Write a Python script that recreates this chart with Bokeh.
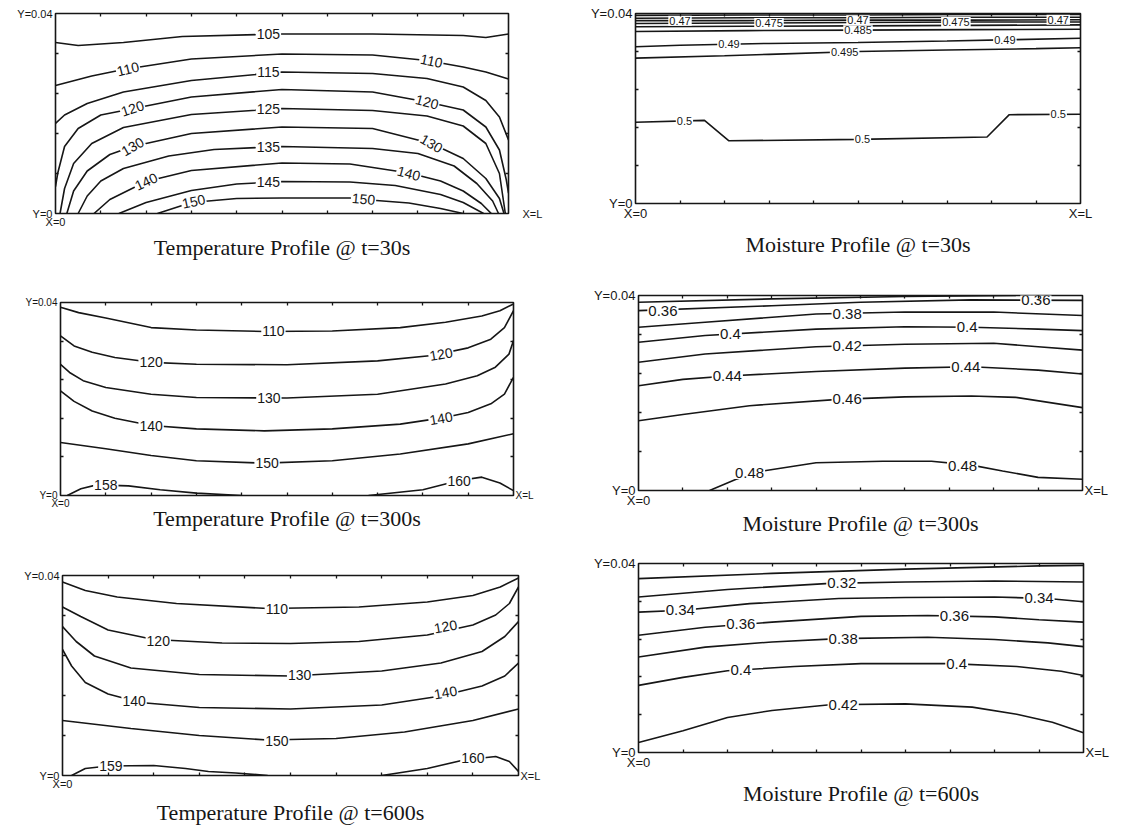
from bokeh.plotting import figure
from bokeh.models import Range1d, FixedTicker, LinearAxis, ColumnDataSource, Title
from bokeh.layouts import row, column
from bokeh.embed import file_html
from bokeh.resources import INLINE
from bokeh.core.properties import value

# ---------------- data (x: fraction of L, y: mm, 0..40 mm = 0..0.04 m) ----------------
# Temperature @ t=30s
T30_levels = [105, 110, 115, 120, 125, 130, 135, 140, 145, 150]
T30_x = [
    [0, 0.05, 0.15, 0.28, 0.5, 0.7, 0.9, 0.95, 1.0],
    [0, 0.08, 0.15, 0.3, 0.5, 0.7, 0.82, 0.9, 0.95, 1.0],
    [0, 0.02, 0.07, 0.15, 0.3, 0.5, 0.7, 0.82, 0.9, 0.95, 0.98, 1.0],
    [0, 0.005, 0.02, 0.05, 0.1, 0.3, 0.5, 0.7, 0.82, 0.9, 0.95, 0.98, 0.995, 1.0],
    [0.01, 0.02, 0.04, 0.08, 0.15, 0.3, 0.5, 0.7, 0.82, 0.9, 0.95, 0.98, 0.993],
    [0.025, 0.04, 0.07, 0.12, 0.17, 0.3, 0.5, 0.7, 0.83, 0.9, 0.95, 0.98, 0.99],
    [0.05, 0.07, 0.1, 0.15, 0.25, 0.35, 0.5, 0.7, 0.8, 0.88, 0.93, 0.965, 0.978],
    [0.085, 0.12, 0.2, 0.3, 0.5, 0.65, 0.78, 0.85, 0.9, 0.94, 0.962],
    [0.14, 0.2, 0.3, 0.4, 0.5, 0.65, 0.75, 0.85, 0.9, 0.945],
    [0.225, 0.3, 0.4, 0.5, 0.65, 0.68, 0.78, 0.85, 0.9],
]
T30_y = [
    [34.2, 33.6, 34.2, 35.4, 35.9, 35.9, 35.6, 35.2, 35.9],
    [25.6, 27.5, 28.8, 30.9, 31.9, 31.7, 30.6, 29.3, 28.3, 26.9],
    [18.0, 19.7, 22.0, 24.3, 26.6, 28.3, 28.0, 27.0, 25.3, 22.6, 19.3, 14.7],
    [5.4, 8.1, 13.4, 17.0, 19.7, 23.3, 24.8, 24.3, 22.3, 20.7, 17.3, 12.7, 6.8, 4.1],
    [0, 5.0, 10.0, 14.0, 17.2, 19.8, 21.0, 20.6, 19.5, 17.5, 14.0, 8.0, 0],
    [0, 4.5, 8.5, 11.8, 13.4, 16.0, 17.3, 17.0, 14.0, 11.0, 7.0, 3.0, 0],
    [0, 3.5, 6.5, 9.0, 11.5, 12.8, 13.4, 13.0, 12.0, 9.5, 6.0, 2.5, 0],
    [0, 2.8, 6.4, 8.6, 10.1, 9.9, 8.1, 6.5, 4.5, 2.0, 0],
    [0, 2.2, 4.6, 5.9, 6.4, 6.3, 5.6, 3.8, 2.2, 0],
    [0, 2.2, 3.0, 3.1, 3.1, 2.8, 2.1, 1.0, 0],
]
T30_lab_text = ["105", "110", "110", "115", "120", "120", "125", "130", "130",
                "135", "140", "140", "145", "150", "150"]
T30_lab_x = [0.47, 0.16, 0.83, 0.47, 0.17, 0.82, 0.47, 0.17, 0.83,
             0.47, 0.2, 0.78, 0.47, 0.305, 0.68]
T30_lab_y = [35.9, 28.9, 30.5, 28.3, 21.0, 22.3, 21.0, 13.4, 14.0,
             13.4, 6.4, 8.0, 6.4, 2.4, 2.9]
T30_lab_ang = [0, 14, -12, 0, 18, -15, 0, 30, -30, 0, 25, -15, 0, 12, -5]

# Moisture @ t=30s
M30_levels = [0.45, 0.46, 0.47, 0.475, 0.48, 0.485, 0.49, 0.495, 0.5]
M30_x = [
    [0, 0.25, 0.5, 0.75, 1.0],
    [0, 0.25, 0.5, 0.75, 1.0],
    [0, 0.25, 0.5, 0.75, 1.0],
    [0, 0.25, 0.5, 0.75, 1.0],
    [0, 0.25, 0.5, 0.75, 1.0],
    [0, 0.25, 0.5, 0.75, 1.0],
    [0, 0.1, 0.3, 0.5, 0.7, 0.85, 1.0],
    [0, 0.2, 0.3, 0.5, 0.7, 0.9, 1.0],
    [0, 0.155, 0.21, 0.5, 0.79, 0.84, 1.0],
]
M30_y = [
    [39.6, 39.7, 39.7, 39.8, 39.8],
    [39.0, 39.1, 39.1, 39.2, 39.2],
    [38.5, 38.5, 38.6, 38.6, 38.7],
    [37.9, 38.0, 38.1, 38.2, 38.2],
    [37.2, 37.3, 37.4, 37.5, 37.6],
    [36.2, 36.4, 36.5, 36.6, 36.7],
    [33.0, 33.3, 33.7, 33.9, 34.2, 34.5, 34.8],
    [30.6, 31.1, 31.4, 32.0, 32.3, 32.6, 32.8],
    [17.1, 17.5, 13.2, 13.5, 14.0, 18.7, 18.8],
]
M30_lab_text = ["0.47", "0.475", "0.47", "0.475", "0.47", "0.485",
                "0.49", "0.49", "0.495", "0.5", "0.5", "0.5"]
M30_lab_x = [0.1, 0.3, 0.5, 0.72, 0.95, 0.5, 0.21, 0.83, 0.47, 0.11, 0.51, 0.95]
M30_lab_y = [38.5, 38.0, 38.6, 38.2, 38.7, 36.5, 33.5, 34.5, 31.9, 17.4, 13.5, 18.8]
M30_lab_ang = [0, 0, 0, 0, 0, 0, 0, 0, 0, 0, 0, 0]

# Temperature @ t=300s
T300_levels = [110, 120, 130, 140, 150, 158, 160]
T300_x = [
    [0, 0.04, 0.1, 0.2, 0.3, 0.45, 0.6, 0.75, 0.85, 0.93, 0.97, 1.0],
    [0, 0.03, 0.07, 0.12, 0.2, 0.3, 0.5, 0.7, 0.82, 0.9, 0.95, 0.98, 1.0],
    [0, 0.02, 0.05, 0.1, 0.2, 0.3, 0.5, 0.7, 0.85, 0.92, 0.96, 0.99, 1.0],
    [0, 0.03, 0.07, 0.12, 0.2, 0.3, 0.45, 0.6, 0.75, 0.85, 0.9, 0.95, 0.98, 1.0],
    [0, 0.1, 0.2, 0.3, 0.45, 0.6, 0.75, 0.9, 1.0],
    [0.015, 0.045, 0.08, 0.15, 0.22, 0.3, 0.4],
    [0.68, 0.8, 0.88, 0.93, 0.97, 1.0],
]
T300_y = [
    [39.0, 37.9, 36.8, 34.8, 34.3, 34.0, 34.1, 34.8, 35.9, 37.2, 38.3, 39.7],
    [33.1, 31.0, 29.7, 28.6, 27.6, 27.2, 27.1, 27.9, 29.0, 30.6, 32.4, 34.8, 38.3],
    [27.2, 25.5, 23.8, 22.4, 21.0, 20.3, 20.2, 21.0, 23.1, 24.8, 26.6, 29.3, 32.1],
    [21.7, 19.5, 17.5, 16.0, 14.5, 13.8, 13.4, 13.8, 14.8, 16.2, 17.2, 19.0, 21.0, 24.5],
    [11.0, 9.7, 8.3, 7.2, 6.7, 7.2, 8.6, 10.7, 12.8],
    [0, 1.4, 2.2, 2.0, 1.2, 0.5, 0],
    [0, 1.2, 3.1, 3.8, 2.6, 1.0],
]
T300_lab_text = ["110", "120", "120", "130", "140", "140", "150", "158", "160"]
T300_lab_x = [0.47, 0.2, 0.84, 0.46, 0.2, 0.84, 0.456, 0.1, 0.88]
T300_lab_y = [34.0, 27.6, 29.3, 20.2, 14.4, 16.0, 6.7, 2.1, 3.1]
T300_lab_ang = [0, 0, 10, 0, 0, 10, 0, 0, 0]

# Moisture @ t=300s
M300_levels = [0.34, 0.36, 0.38, 0.40, 0.42, 0.44, 0.46, 0.48]
M300_x = [
    [0, 0.3, 0.6, 0.85],
    [0, 0.3, 0.5, 0.75, 1.0],
    [0, 0.15, 0.4, 0.6, 0.8, 1.0],
    [0, 0.15, 0.4, 0.6, 0.75, 0.9, 1.0],
    [0, 0.15, 0.4, 0.6, 0.8, 0.9, 1.0],
    [0, 0.1, 0.2, 0.4, 0.6, 0.75, 0.9, 1.0],
    [0, 0.1, 0.25, 0.45, 0.6, 0.75, 0.85, 1.0],
    [0.16, 0.22, 0.28, 0.4, 0.55, 0.66, 0.75, 0.82, 0.9, 1.0],
]
M300_y = [
    [38.6, 39.3, 39.8, 40.0],
    [36.9, 37.9, 38.6, 39.1, 39.0],
    [33.5, 34.5, 36.2, 36.6, 36.6, 35.9],
    [30.4, 31.8, 33.1, 33.6, 33.5, 33.1, 32.8],
    [26.3, 28.0, 29.5, 30.0, 30.2, 29.5, 28.8],
    [21.5, 22.8, 23.5, 24.4, 25.1, 25.4, 24.7, 23.9],
    [14.3, 15.6, 17.4, 18.7, 19.2, 19.4, 19.1, 17.0],
    [0, 2.3, 4.0, 5.7, 6.0, 6.0, 5.2, 4.0, 2.7, 2.3],
]
M300_lab_text = ["0.36", "0.36", "0.38", "0.4", "0.4", "0.42", "0.44", "0.44",
                 "0.46", "0.48", "0.48"]
M300_lab_x = [0.055, 0.895, 0.47, 0.207, 0.74, 0.47, 0.2, 0.737, 0.47, 0.25, 0.73]
M300_lab_y = [36.9, 39.1, 36.3, 32.2, 33.5, 29.7, 23.5, 25.4, 18.8, 3.6, 5.0]
M300_lab_ang = [0, 0, 0, 0, 0, 0, 0, 0, 0, 0, 0]

# Temperature @ t=600s
T600_levels = [110, 120, 130, 140, 150, 159, 160]
T600_x = [
    [0, 0.05, 0.12, 0.25, 0.45, 0.65, 0.8, 0.9, 0.96, 1.0],
    [0, 0.04, 0.1, 0.2, 0.35, 0.5, 0.65, 0.8, 0.9, 0.95, 0.98, 1.0],
    [0, 0.03, 0.07, 0.15, 0.3, 0.5, 0.7, 0.83, 0.92, 0.97, 1.0],
    [0, 0.02, 0.05, 0.1, 0.17, 0.3, 0.5, 0.7, 0.83, 0.92, 0.97, 1.0],
    [0, 0.15, 0.3, 0.45, 0.6, 0.75, 0.9, 1.0],
    [0.02, 0.05, 0.1, 0.2, 0.27, 0.32, 0.38, 0.45],
    [0.7, 0.8, 0.88, 0.95, 0.98, 1.0],
]
T600_y = [
    [38.7, 37.0, 35.7, 34.4, 33.4, 33.7, 34.7, 36.0, 37.7, 39.5],
    [33.7, 31.8, 29.1, 27.2, 26.5, 26.4, 26.8, 28.1, 30.1, 32.1, 34.4, 37.7],
    [29.8, 26.8, 23.9, 21.5, 20.2, 19.9, 20.9, 22.5, 24.8, 27.8, 30.8],
    [25.2, 21.9, 18.6, 16.3, 14.6, 13.6, 13.3, 14.1, 15.9, 17.9, 19.9, 22.5],
    [11.0, 9.4, 8.0, 7.1, 7.4, 8.7, 11.0, 13.3],
    [0, 1.4, 1.9, 2.0, 1.4, 0.8, 0.5, 0],
    [0, 1.4, 3.1, 3.8, 2.8, 0.8],
]
T600_lab_text = ["110", "120", "120", "130", "140", "140", "150", "159", "160"]
T600_lab_x = [0.47, 0.21, 0.84, 0.52, 0.157, 0.84, 0.47, 0.106, 0.9]
T600_lab_y = [33.4, 27.0, 29.8, 20.1, 14.9, 16.6, 7.0, 1.9, 3.5]
T600_lab_ang = [0, 0, 10, 0, 0, 10, 0, 0, 0]

# Moisture @ t=600s
M600_levels = [0.30, 0.32, 0.34, 0.36, 0.38, 0.40, 0.42]
M600_x = [
    [0, 0.3, 0.6, 0.9, 1.0],
    [0, 0.2, 0.43, 0.6, 0.8, 1.0],
    [0, 0.1, 0.25, 0.45, 0.6, 0.8, 0.92, 1.0],
    [0, 0.15, 0.3, 0.5, 0.65, 0.8, 0.9, 1.0],
    [0, 0.15, 0.3, 0.45, 0.65, 0.8, 0.92, 1.0],
    [0, 0.1, 0.2, 0.35, 0.5, 0.7, 0.85, 0.95, 1.0],
    [0, 0.1, 0.2, 0.3, 0.43, 0.6, 0.75, 0.85, 0.93, 1.0],
]
M600_y = [
    [36.8, 37.9, 38.8, 39.5, 39.6],
    [32.9, 34.5, 35.8, 36.1, 36.3, 36.1],
    [29.7, 30.1, 31.5, 32.6, 32.8, 32.9, 32.6, 31.9],
    [24.8, 26.5, 27.6, 28.8, 29.0, 28.7, 28.1, 27.6],
    [20.2, 22.3, 23.4, 24.1, 24.4, 23.9, 23.2, 22.4],
    [14.2, 15.9, 17.3, 18.2, 18.8, 18.8, 18.2, 17.2, 16.3],
    [2.1, 4.6, 7.4, 8.9, 10.1, 10.3, 9.6, 8.1, 6.4, 4.2],
]
M600_lab_text = ["0.32", "0.34", "0.34", "0.36", "0.36", "0.38", "0.4", "0.4", "0.42"]
M600_lab_x = [0.457, 0.094, 0.9, 0.23, 0.71, 0.46, 0.23, 0.715, 0.46]
M600_lab_y = [35.8, 30.1, 32.7, 27.1, 28.9, 24.1, 17.5, 18.8, 10.1]
M600_lab_ang = [0, 0, 0, 0, 0, 0, 0, 0, 0]

Y_TOP_TEXT = "Y=0.04"
Y_BOT_TEXT = "Y=0"
X_LEFT_TEXT = "X=0"
X_RIGHT_TEXT = "X=L"

CAPTIONS = ["Temperature Profile @ t=30s", "Moisture Profile @ t=30s",
            "Temperature Profile @ t=300s", "Moisture Profile @ t=300s",
            "Temperature Profile @ t=600s", "Moisture Profile @ t=600s"]

# ---------------- styling / construction ----------------
INK = "#161616"
SANS = "Liberation Sans"
SERIF = "Liberation Serif"


def style_axis(ax, ticks, minor, overrides, size, standoff):
    ax.ticker = FixedTicker(ticks=ticks, minor_ticks=minor)
    ax.major_label_overrides = overrides
    ax.axis_line_color = None
    ax.major_tick_in = 0
    ax.major_tick_out = 0
    ax.major_tick_line_color = None
    ax.minor_tick_in = 3
    ax.minor_tick_out = 0
    ax.minor_tick_line_color = INK
    ax.minor_tick_line_width = 1.3
    ax.major_label_text_font = SANS
    ax.major_label_text_font_size = f"{size}px"
    ax.major_label_text_color = INK
    ax.major_label_standoff = standoff


def make_panel(xs, ys, lab_text, lab_x, lab_y, lab_ang, caption, geo,
               cap_off, cap_standoff, lab_size, corner_size, xl_on_bottom, xr_standoff):
    W, H, bl, br, bt, bb = geo
    p = figure(width=W, height=H, x_range=Range1d(0, 1), y_range=Range1d(0, 40),
               output_backend="svg", toolbar_location=None, tools="",
               min_border_left=bl, min_border_right=br,
               min_border_top=bt, min_border_bottom=bb)
    p.background_fill_color = "white"
    p.border_fill_color = "white"
    p.outline_line_color = INK
    p.outline_line_width = 1.6
    p.grid.visible = False

    xminor = [i / 10 for i in range(1, 10)]
    yminor = [8, 16, 24, 32]
    bottom_ticks = [0, 1] if xl_on_bottom else [0]
    style_axis(p.xaxis[0], bottom_ticks, xminor, {0: X_LEFT_TEXT, 1: X_RIGHT_TEXT},
               corner_size, 2)
    style_axis(p.yaxis[0], [0, 40], yminor, {0: Y_BOT_TEXT, 40: Y_TOP_TEXT},
               corner_size, 3)
    top = LinearAxis()
    style_axis(top, [], xminor, {}, corner_size, 0)
    p.add_layout(top, "above")
    right = LinearAxis()
    style_axis(right, [] if xl_on_bottom else [0], yminor, {0: X_RIGHT_TEXT},
               corner_size, xr_standoff)
    p.add_layout(right, "right")

    p.multi_line(xs=xs, ys=ys, line_color=INK, line_width=1.6)

    src = ColumnDataSource(dict(x=lab_x, y=lab_y, t=lab_text, a=lab_ang))
    p.text(x="x", y="y", text="t", angle="a", angle_units="deg", source=src,
           text_align="center", text_baseline="middle",
           text_font=value(SANS), text_font_size=f"{lab_size}px", text_color=INK,
           background_fill_color="white", padding=1)

    p.add_layout(Title(text=caption, align="center", offset=cap_off,
                       standoff=cap_standoff, text_font=SERIF,
                       text_font_size="22px", text_font_style="normal",
                       text_color=INK), "below")
    return p


# geometry: (width, height, border left, right, top, bottom)
p1 = make_panel(T30_x, T30_y, T30_lab_text, T30_lab_x, T30_lab_y, T30_lab_ang,
                CAPTIONS[0], (570, 262, 55, 62, 13, 48), 14, 5, 14, 11, False, 14)
p2 = make_panel(M30_x, M30_y, M30_lab_text, M30_lab_x, M30_lab_y, M30_lab_ang,
                CAPTIONS[1], (566, 262, 65, 56, 13, 59), -12, 12, 11, 13, True, 4)
p3 = make_panel(T300_x, T300_y, T300_lab_text, T300_lab_x, T300_lab_y, T300_lab_ang,
                CAPTIONS[2], (570, 278, 60, 57, 40, 45), 4, -15, 14, 10, False, 2)
p4 = make_panel(M300_x, M300_y, M300_lab_text, M300_lab_x, M300_lab_y, M300_lab_ang,
                CAPTIONS[3], (566, 278, 68, 54, 33, 50), 2, -4, 15, 13, False, 2)
p5 = make_panel(T600_x, T600_y, T600_lab_text, T600_lab_x, T600_lab_y, T600_lab_ang,
                CAPTIONS[4], (570, 290, 62, 52, 35, 53), -17, 11, 14, 11, False, 2)
p6 = make_panel(M600_x, M600_y, M600_lab_text, M600_lab_x, M600_lab_y, M600_lab_ang,
                CAPTIONS[5], (566, 290, 68, 53, 23, 78), -16, 13, 15, 13, False, 2)

# each plot wrapped in its own column so that the row does not align the frames
layout = column(row(column(p1), column(p2), spacing=0),
                row(column(p3), column(p4), spacing=0),
                row(column(p5), column(p6), spacing=0), spacing=0)

open("out.html", "w").write(file_html(layout, INLINE))
